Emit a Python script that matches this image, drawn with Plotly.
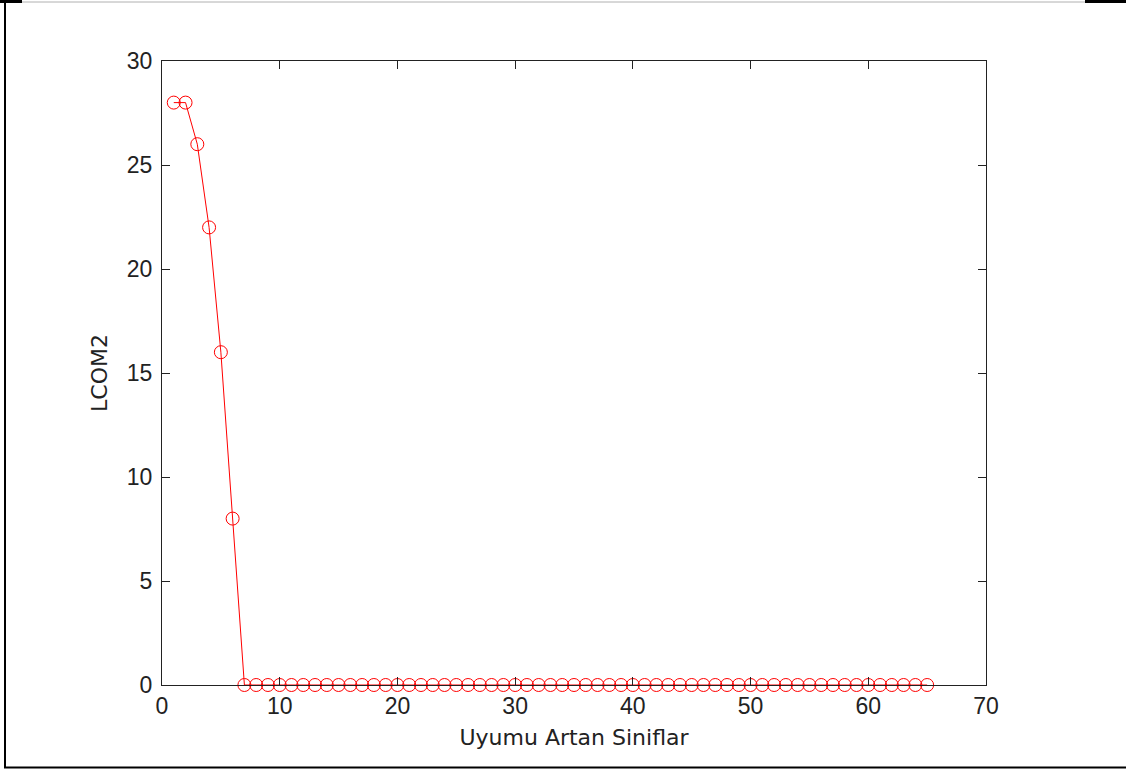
import plotly.graph_objects as go

# LCOM2 values per class, ordered by increasing cohesion
class_index = list(range(1, 66))
lcom2 = [28, 28, 26, 22, 16, 8] + [0] * 59

x_ticks = [0, 10, 20, 30, 40, 50, 60, 70]
y_ticks = [0, 5, 10, 15, 20, 25, 30]

W, H = 1126, 769
L, R, T, B = 162, 986, 61, 685  # plot box in pixels


def px(x):
    return (x - L) / (R - L)


def py(y):
    return (B - y) / (B - T)


fig = go.Figure()
fig.add_trace(go.Scatter(
    x=class_index,
    y=lcom2,
    mode="lines+markers",
    line=dict(color="#ff0000", width=1),
    marker=dict(symbol="circle-open", size=13, color="#ff0000", line=dict(width=1, color="#ff0000")),
    cliponaxis=False,
    showlegend=False,
))

tick_font = dict(family="Liberation Sans, Arial, sans-serif", size=23, color="#222222")
title_font = dict(family="DejaVu Sans, sans-serif", size=22, color="#222222")

axis_common = dict(
    showgrid=False,
    zeroline=False,
    showline=True,
    linecolor="#222222",
    linewidth=1,
    mirror="ticks",
    ticks="inside",
    ticklen=8,
    tickwidth=1,
    tickcolor="#222222",
    tickfont=tick_font,
)

fig.update_layout(
    width=W,
    height=H,
    margin=dict(l=L, r=W - R, t=T, b=H - B, autoexpand=False),
    paper_bgcolor="white",
    plot_bgcolor="white",
    xaxis=dict(range=[0, 70], tickvals=x_ticks, ticktext=[str(v) for v in x_ticks],
               ticklabelstandoff=0,
               title=dict(text="Uyumu Artan Siniflar", font=title_font, standoff=12), **axis_common),
    yaxis=dict(range=[0, 30], tickvals=y_ticks, ticktext=[str(v) for v in y_ticks],
               ticklabelstandoff=4,
               title=dict(text="LCOM2", font=title_font, standoff=13), **axis_common),
)

# window frame around the figure
frame = [
    (px(5), py(0), px(5), py(768), "black", 2),
    (px(4), py(767.5), px(W), py(767.5), "black", 2),
    (px(0), py(2), px(W), py(2), "#b0b0b0", 1),
    (px(0), py(1.5), px(22), py(1.5), "black", 3),
    (px(1085), py(1.5), px(W), py(1.5), "black", 3),
]
for x0, y0, x1, y1, c, w in frame:
    fig.add_shape(type="line", xref="paper", yref="paper", x0=x0, y0=y0, x1=x1, y1=y1,
                  line=dict(color=c, width=w))

fig.write_html("out.html")
